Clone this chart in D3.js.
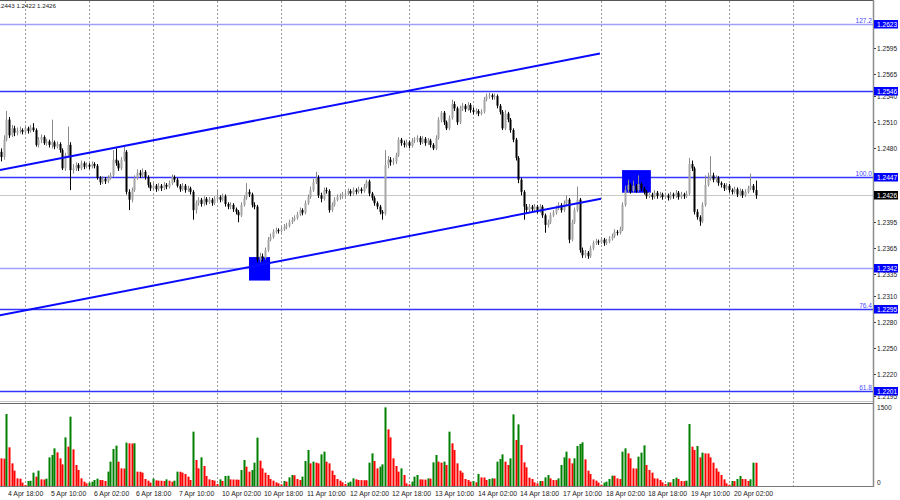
<!DOCTYPE html>
<html>
<head>
<meta charset="utf-8">
<script src="https://cdn.jsdelivr.net/npm/d3@7"></script>
<style>
  body { margin: 0; background: #fff; }
  svg { display: block; font-family: "Liberation Sans", Arial, sans-serif; }
</style>
</head>
<body>
<svg width="900" height="500"></svg>
<script>
// ---- data (open of each bar = close of the bar before) ----
var firstOpen = 1.2476;
var closes = [
  1.2470,1.2490,1.2513,1.2495,1.2503,1.2498,1.2500,1.2501,1.2499,1.2503,1.2500,1.2504,1.2501,1.2484,1.2490,1.2493,
  1.2486,1.2488,1.2484,1.2487,1.2482,1.2485,1.2478,1.2457,1.2472,1.2484,1.2455,1.2457,1.2461,1.2457,1.2463,1.2459,
  1.2461,1.2459,1.2462,1.2460,1.2446,1.2441,1.2445,1.2442,1.2446,1.2449,1.2467,1.2463,1.2457,1.2467,1.2476,1.2430,
  1.2421,1.2432,1.2446,1.2452,1.2449,1.2453,1.2447,1.2438,1.2434,1.2437,1.2433,1.2437,1.2434,1.2438,1.2436,1.2440,
  1.2447,1.2444,1.2437,1.2433,1.2437,1.2432,1.2434,1.2430,1.2409,1.2417,1.2421,1.2416,1.2422,1.2418,1.2421,1.2417,
  1.2422,1.2424,1.2421,1.2425,1.2416,1.2413,1.2415,1.2410,1.2407,1.2403,1.2415,1.2423,1.2430,1.2427,1.2415,1.2413,
  1.2352,1.2356,1.2354,1.2363,1.2375,1.2378,1.2384,1.2386,1.2385,1.2387,1.2390,1.2391,1.2395,1.2398,1.2400,1.2404,
  1.2409,1.2406,1.2417,1.2424,1.2432,1.2441,1.2446,1.2426,1.2422,1.2432,1.2431,1.2409,1.2415,1.2421,1.2424,1.2425,
  1.2427,1.2428,1.2431,1.2428,1.2432,1.2430,1.2433,1.2431,1.2436,1.2442,1.2428,1.2423,1.2417,1.2413,1.2407,1.2405,
  1.2461,1.2467,1.2464,1.2465,1.2472,1.2490,1.2486,1.2484,1.2487,1.2483,1.2489,1.2490,1.2492,1.2487,1.2491,1.2486,
  1.2489,1.2484,1.2480,1.2492,1.2513,1.2521,1.2510,1.2503,1.2515,1.2531,1.2526,1.2510,1.2526,1.2529,1.2525,1.2530,
  1.2524,1.2522,1.2523,1.2520,1.2522,1.2536,1.2540,1.2541,1.2539,1.2540,1.2529,1.2522,1.2503,1.2520,1.2513,1.2501,
  1.2490,1.2469,1.2444,1.2430,1.2413,1.2409,1.2413,1.2410,1.2413,1.2408,1.2413,1.2403,1.2392,1.2395,1.2403,1.2406,
  1.2411,1.2415,1.2409,1.2417,1.2421,1.2375,1.2395,1.2409,1.2421,1.2363,1.2357,1.2360,1.2356,1.2365,1.2371,1.2373,
  1.2372,1.2375,1.2371,1.2373,1.2376,1.2379,1.2384,1.2383,1.2387,1.2415,1.2432,1.2438,1.2431,1.2437,1.2432,1.2439,
  1.2434,1.2430,1.2425,1.2427,1.2424,1.2429,1.2425,1.2427,1.2424,1.2426,1.2423,1.2427,1.2425,1.2429,1.2424,1.2427,
  1.2425,1.2428,1.2462,1.2457,1.2407,1.2401,1.2396,1.2415,1.2438,1.2446,1.2449,1.2444,1.2446,1.2440,1.2438,1.2434,
  1.2437,1.2432,1.2430,1.2433,1.2427,1.2431,1.2426,1.2430,1.2434,1.2437,1.2432,1.2426
];
var highs = [
  1.2480,1.2495,1.2523,1.2516,1.2507,1.2506,1.2504,1.2505,1.2503,1.2506,1.2505,1.2507,1.2509,1.2503,1.2493,1.2496,
  1.2495,1.2491,1.2490,1.2513,1.2489,1.2488,1.2487,1.2480,1.2475,1.2505,1.2487,1.2462,1.2464,1.2463,1.2466,1.2465,
  1.2464,1.2463,1.2465,1.2464,1.2462,1.2448,1.2448,1.2447,1.2449,1.2452,1.2478,1.2480,1.2466,1.2470,1.2482,1.2478,
  1.2433,1.2435,1.2449,1.2456,1.2455,1.2457,1.2455,1.2449,1.2441,1.2440,1.2439,1.2440,1.2439,1.2441,1.2440,1.2443,
  1.2450,1.2449,1.2446,1.2439,1.2440,1.2439,1.2437,1.2436,1.2432,1.2420,1.2424,1.2423,1.2425,1.2424,1.2424,1.2423,
  1.2425,1.2431,1.2426,1.2428,1.2427,1.2418,1.2418,1.2417,1.2412,1.2409,1.2418,1.2426,1.2440,1.2433,1.2429,1.2418,
  1.2415,1.2360,1.2359,1.2366,1.2378,1.2382,1.2387,1.2389,1.2388,1.2390,1.2393,1.2394,1.2398,1.2401,1.2403,1.2407,
  1.2412,1.2411,1.2420,1.2427,1.2436,1.2445,1.2453,1.2449,1.2429,1.2435,1.2435,1.2433,1.2418,1.2424,1.2427,1.2428,
  1.2430,1.2431,1.2434,1.2433,1.2435,1.2434,1.2436,1.2435,1.2439,1.2444,1.2444,1.2430,1.2425,1.2419,1.2415,1.2409,
  1.2478,1.2471,1.2470,1.2469,1.2475,1.2493,1.2492,1.2489,1.2490,1.2489,1.2492,1.2493,1.2495,1.2494,1.2494,1.2493,
  1.2492,1.2491,1.2486,1.2495,1.2516,1.2523,1.2523,1.2512,1.2518,1.2536,1.2534,1.2528,1.2529,1.2532,1.2531,1.2533,
  1.2532,1.2527,1.2526,1.2525,1.2525,1.2539,1.2543,1.2544,1.2543,1.2543,1.2542,1.2531,1.2524,1.2524,1.2522,1.2515,
  1.2503,1.2492,1.2471,1.2446,1.2432,1.2416,1.2416,1.2415,1.2416,1.2415,1.2416,1.2415,1.2405,1.2398,1.2406,1.2409,
  1.2414,1.2418,1.2417,1.2420,1.2426,1.2423,1.2398,1.2412,1.2436,1.2423,1.2366,1.2363,1.2362,1.2368,1.2374,1.2376,
  1.2375,1.2378,1.2377,1.2376,1.2379,1.2382,1.2387,1.2386,1.2390,1.2418,1.2437,1.2444,1.2440,1.2443,1.2439,1.2449,
  1.2441,1.2436,1.2432,1.2430,1.2429,1.2432,1.2431,1.2430,1.2429,1.2429,1.2428,1.2430,1.2429,1.2432,1.2431,1.2430,
  1.2429,1.2431,1.2469,1.2466,1.2459,1.2410,1.2403,1.2418,1.2449,1.2452,1.2471,1.2452,1.2449,1.2448,1.2442,1.2440,
  1.2440,1.2439,1.2434,1.2436,1.2435,1.2434,1.2433,1.2433,1.2437,1.2451,1.2439,1.2443
];
var lows = [
  1.2465,1.2467,1.2488,1.2492,1.2493,1.2494,1.2495,1.2497,1.2496,1.2497,1.2497,1.2498,1.2499,1.2482,1.2481,1.2486,
  1.2484,1.2483,1.2481,1.2480,1.2479,1.2480,1.2475,1.2455,1.2454,1.2470,1.2432,1.2451,1.2454,1.2454,1.2455,1.2456,
  1.2457,1.2456,1.2457,1.2457,1.2444,1.2438,1.2439,1.2439,1.2440,1.2444,1.2447,1.2460,1.2454,1.2455,1.2465,1.2427,
  1.2409,1.2418,1.2430,1.2444,1.2446,1.2447,1.2444,1.2435,1.2431,1.2432,1.2430,1.2431,1.2431,1.2432,1.2433,1.2434,
  1.2438,1.2441,1.2435,1.2430,1.2431,1.2429,1.2430,1.2427,1.2398,1.2405,1.2414,1.2413,1.2414,1.2415,1.2416,1.2414,
  1.2415,1.2419,1.2418,1.2419,1.2413,1.2410,1.2410,1.2407,1.2404,1.2395,1.2401,1.2413,1.2421,1.2424,1.2412,1.2410,
  1.2349,1.2349,1.2350,1.2352,1.2361,1.2373,1.2376,1.2382,1.2382,1.2383,1.2385,1.2387,1.2389,1.2393,1.2396,1.2398,
  1.2402,1.2403,1.2404,1.2415,1.2422,1.2430,1.2439,1.2423,1.2418,1.2420,1.2428,1.2406,1.2407,1.2413,1.2419,1.2421,
  1.2422,1.2424,1.2426,1.2425,1.2426,1.2427,1.2428,1.2428,1.2429,1.2434,1.2425,1.2420,1.2414,1.2410,1.2404,1.2398,
  1.2403,1.2457,1.2460,1.2461,1.2462,1.2470,1.2483,1.2481,1.2481,1.2480,1.2481,1.2486,1.2487,1.2484,1.2485,1.2483,
  1.2484,1.2481,1.2478,1.2478,1.2490,1.2510,1.2507,1.2501,1.2501,1.2513,1.2523,1.2507,1.2508,1.2523,1.2522,1.2523,
  1.2521,1.2519,1.2519,1.2517,1.2518,1.2520,1.2534,1.2537,1.2536,1.2536,1.2526,1.2519,1.2501,1.2501,1.2510,1.2498,
  1.2487,1.2466,1.2440,1.2426,1.2398,1.2405,1.2406,1.2407,1.2408,1.2405,1.2406,1.2400,1.2383,1.2389,1.2393,1.2401,
  1.2404,1.2409,1.2406,1.2407,1.2415,1.2371,1.2373,1.2393,1.2407,1.2360,1.2354,1.2354,1.2353,1.2354,1.2363,1.2369,
  1.2369,1.2370,1.2368,1.2369,1.2371,1.2374,1.2377,1.2380,1.2381,1.2385,1.2413,1.2429,1.2428,1.2429,1.2429,1.2430,
  1.2431,1.2427,1.2422,1.2423,1.2421,1.2422,1.2422,1.2423,1.2421,1.2422,1.2420,1.2421,1.2422,1.2423,1.2421,1.2422,
  1.2422,1.2423,1.2426,1.2454,1.2404,1.2398,1.2391,1.2394,1.2413,1.2436,1.2443,1.2441,1.2441,1.2437,1.2435,1.2431,
  1.2432,1.2429,1.2427,1.2428,1.2424,1.2425,1.2423,1.2424,1.2428,1.2432,1.2429,1.2422
];
var volumes = [
  553,547,1440,773,453,307,153,147,67,20,100,105,267,187,307,133,
  130,147,573,620,753,673,553,433,973,787,1387,733,420,320,153,87,
  53,67,87,120,147,120,118,100,287,487,740,807,487,353,350,867,
  853,850,855,287,285,267,140,107,67,147,113,107,105,100,133,107,
  87,107,287,285,267,240,187,120,1087,520,353,573,400,200,133,120,
  107,40,133,100,200,205,133,130,128,125,320,520,387,287,320,467,
  967,507,353,267,220,140,107,73,53,33,100,87,173,220,215,140,
  120,187,500,720,453,487,467,453,633,687,487,453,307,220,140,107,
  73,40,67,87,153,133,120,118,116,115,467,653,500,353,387,433,
  1573,1133,973,553,400,287,353,220,53,33,87,187,220,133,130,128,
  153,147,473,620,487,467,487,420,1087,853,720,453,307,267,140,120,
  87,100,73,240,173,170,120,140,153,150,487,540,633,487,420,553,
  1433,920,1233,820,473,373,167,140,73,53,100,98,173,220,153,120,
  118,153,420,573,687,553,453,553,800,840,873,533,307,240,133,107,
  67,27,67,87,140,207,205,153,140,687,753,653,553,353,350,587,
  667,813,420,320,267,153,150,120,73,40,73,72,140,167,140,100,
  98,107,1240,787,720,800,573,667,653,650,573,467,353,287,220,133,
  53,27,100,98,140,200,140,138,100,133,467,465
];
var timeLabels = ["4 Apr 18:00", "5 Apr 10:00", "6 Apr 02:00", "6 Apr 18:00", "7 Apr 10:00", "10 Apr 02:00",
  "10 Apr 18:00", "11 Apr 10:00", "12 Apr 02:00", "12 Apr 18:00", "13 Apr 10:00", "14 Apr 02:00",
  "14 Apr 18:00", "17 Apr 10:00", "18 Apr 02:00", "18 Apr 18:00", "19 Apr 10:00", "20 Apr 02:00"];
var priceTicks = [1.2595, 1.2565, 1.2540, 1.2510, 1.2480, 1.2395, 1.2365, 1.2335, 1.2310, 1.2280, 1.2250, 1.2220, 1.2195];
var levels = [1.2623, 1.2546, 1.2447, 1.2342, 1.2295, 1.2201];
var fiboNames = ["127.2", "", "100.0", "", "76.4", "61.8"];
var channelUpper = [[-0.4, 1.2455], [224.6, 1.2589]];
var channelLower = [[-0.4, 1.2288], [225.0, 1.2422]];
var zones = [[93.0, 100.9, 1.2355, 1.2328], [232.9, 243.7, 1.2455, 1.2429]];  // [from bar, to bar, top, bottom]
var volTicks = [1500, 0];

/***********************************************************************************************/

var svg = d3.select("svg"),
    plot_right = 873, vol_bottom = 486,
    up_clr = "#a6a6a6", down_clr = "#000",
    lvl_clr = "#3434ff", light_clr = "#a0a0ff",
    light_levels = [1.2623, 1.2342];   // drawn paler and a bit thicker

var x = d3.scaleLinear().domain([0, 327]).range([1, plot_right]);
var y = d3.scaleLinear().domain([1.2201, 1.2623]).range([391, 24]);
var yv = d3.scaleLinear().domain([0, 1500]).range([vol_bottom, 411]);
var fmt = d3.format(".4f");
var bx = i => Math.round(x(i));

svg.append("rect").attr("width", 900).attr("height", 500).attr("fill", "#fff");
svg.append("clipPath").attr("id", "clipPrice")
  .append("rect").attr("x", 0).attr("y", 1).attr("width", plot_right).attr("height", 400);

// dotted vertical grid every 24 bars
svg.append("g").selectAll("line").data(d3.range(9, closes.length + 20, 24)).join("line")
  .attr("x1", d => bx(d) + 0.5).attr("x2", d => bx(d) + 0.5)
  .attr("y1", 1).attr("y2", vol_bottom)
  .attr("stroke", "#9a9a9a").attr("stroke-dasharray", "2,2");

var price = svg.append("g").attr("clip-path", "url(#clipPrice)");

// horizontal levels and bid line
price.selectAll(".lvl").data(levels).join("line").attr("class", "lvl")
  .attr("x1", 0).attr("x2", plot_right)
  .attr("y1", d => Math.round(y(d)) + 0.5).attr("y2", d => Math.round(y(d)) + 0.5)
  .attr("stroke", d => light_levels.includes(d) ? light_clr : lvl_clr)
  .attr("stroke-width", d => light_levels.includes(d) ? 1.7 : 1.4);

var last = closes.length - 1;
price.append("line")
  .attr("x1", 0).attr("x2", plot_right)
  .attr("y1", Math.round(y(closes[last])) + 0.5).attr("y2", Math.round(y(closes[last])) + 0.5)
  .attr("stroke", "#c8c8c8");

// blue zones
price.selectAll(".zone").data(zones).join("rect").attr("class", "zone")
  .attr("x", d => x(d[0])).attr("width", d => x(d[1]) - x(d[0]))
  .attr("y", d => y(d[2])).attr("height", d => y(d[3]) - y(d[2]))
  .attr("fill", "#0000ff");

// candles
var bars = closes.map((c, i) => ({ i: i, o: i ? closes[i - 1] : firstOpen, h: highs[i], l: lows[i], c: c }));

price.selectAll(".wick").data(bars).join("line").attr("class", "wick")
  .attr("x1", d => bx(d.i) + 0.5).attr("x2", d => bx(d.i) + 0.5)
  .attr("y1", d => y(d.h)).attr("y2", d => y(d.l))
  .attr("stroke", d => d.c >= d.o ? "#8a8a8a" : down_clr);

price.selectAll(".body").data(bars).join("rect").attr("class", "body")
  .attr("x", d => bx(d.i) - 0.5).attr("width", 2)
  .attr("y", d => y(Math.max(d.o, d.c)))
  .attr("height", d => Math.max(1, Math.abs(y(d.o) - y(d.c))))
  .attr("fill", d => d.c >= d.o ? up_clr : down_clr);

// channel
var line = d3.line().x(d => x(d[0])).y(d => y(d[1]));
price.selectAll(".chan").data([channelUpper, channelLower]).join("path").attr("class", "chan")
  .attr("d", line).attr("fill", "none").attr("stroke", "#0a0aff").attr("stroke-width", 2);

// volumes
svg.append("g").selectAll("rect").data(volumes).join("rect")
  .attr("x", (d, i) => bx(i) - 0.5).attr("width", 2)
  .attr("y", d => yv(d)).attr("height", d => vol_bottom - yv(d))
  .attr("fill", (d, i) => i > 0 && d > volumes[i - 1] ? "#008000" : "#ff0000");

/***********************************************************************************************/
// frame
svg.append("line").attr("x1", 0).attr("x2", plot_right).attr("y1", 0.5).attr("y2", 0.5).attr("stroke", "#555");
svg.append("line").attr("x1", 0).attr("x2", plot_right).attr("y1", 401.5).attr("y2", 401.5).attr("stroke", "#c4c4c4");
svg.append("line").attr("x1", 0).attr("x2", plot_right).attr("y1", 403.5).attr("y2", 403.5).attr("stroke", "#666");
svg.append("line").attr("x1", 0).attr("x2", plot_right).attr("y1", vol_bottom + 0.5).attr("y2", vol_bottom + 0.5).attr("stroke", "#777");
svg.append("line").attr("x1", plot_right + 0.5).attr("x2", plot_right + 0.5).attr("y1", 0).attr("y2", vol_bottom + 1)
  .attr("stroke", "#8c8c8c").attr("stroke-width", 1.5);

var axis = svg.append("g").style("font-size", "6.6px").attr("fill", "#222");

// price scale
axis.selectAll(".pt").data(priceTicks).join("text").attr("class", "pt")
  .attr("x", 877).attr("y", d => y(d) + 2.4).text(d => fmt(d));
axis.selectAll(".pm").data(priceTicks).join("line").attr("class", "pm")
  .attr("x1", plot_right + 1).attr("x2", plot_right + 3)
  .attr("y1", d => Math.round(y(d)) + 0.5).attr("y2", d => Math.round(y(d)) + 0.5).attr("stroke", "#444");

// level tags
var tags = levels.map(v => ({ v: v, bg: "#0000ff" })).concat([{ v: closes[last], bg: "#000" }]);
var tag = axis.selectAll(".tag").data(tags).join("g").attr("class", "tag")
  .attr("transform", d => "translate(" + (plot_right + 1) + "," + Math.round(y(d.v)) + ")");
tag.append("rect").attr("x", 0).attr("y", -4).attr("width", 24).attr("height", 8.5).attr("fill", d => d.bg);
tag.append("text").attr("x", 3).attr("y", 2.5).attr("fill", "#fff").text(d => fmt(d.v));

axis.selectAll(".fib").data(levels.map((v, i) => [v, fiboNames[i]]).filter(d => d[1])).join("text").attr("class", "fib")
  .attr("x", plot_right - 1).attr("y", d => y(d[0]) - 1.5).attr("text-anchor", "end")
  .attr("fill", "#4a4aff").text(d => d[1]);

// volume scale
axis.selectAll(".vt").data(volTicks).join("text").attr("class", "vt")
  .attr("x", 877).attr("y", d => yv(d) - 1.5).text(d => d);

// time scale
axis.selectAll(".tl").data(timeLabels).join("text").attr("class", "tl")
  .attr("x", (d, k) => bx(2 + 16 * k) + 2).attr("y", 495.5).style("font-size", "6.9px").text(d => d);

// header (left part is cut off like in the terminal)
axis.append("text").attr("x", 56).attr("y", 7.5).attr("text-anchor", "end").style("font-size", "6.2px")
  .text(fmt(highs[last]) + " " + fmt(lows[last]) + " " + fmt(closes[last]));
</script>
</body>
</html>
